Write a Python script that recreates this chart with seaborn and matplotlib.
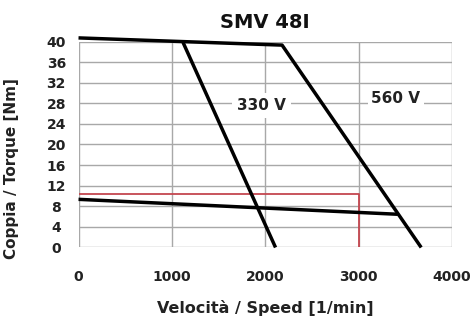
import matplotlib
matplotlib.use("Agg")
import matplotlib.pyplot as plt
import seaborn as sns
import pandas as pd

# Data
peak_560_speed = [0, 2180, 3670]
peak_560_torque = [40.7, 39.3, 0]
peak_330_speed = [1120, 2110]
peak_330_torque = [39.8, 0]
cont_speed = [0, 3420]
cont_torque = [9.35, 6.45]
rated_speed = [0, 3000, 3000]
rated_torque = [10.4, 10.4, 0]

x_ticks = [0, 1000, 2000, 3000, 4000]
y_ticks = list(range(0, 41, 4))

sns.set_theme(style="white")
plt.rcParams['font.family'] = ['DejaVu Sans']
plt.rcParams['text.color'] = 'black'
plt.rcParams['axes.labelcolor'] = 'black'
plt.rcParams['xtick.color'] = 'black'
plt.rcParams['ytick.color'] = 'black'

fig = plt.figure(figsize=(4.71, 3.25), dpi=100)
ax = fig.add_axes([0.1667, 0.2385, 0.9597 - 0.1667, 0.8723 - 0.2385])

for s in ax.spines.values():
    s.set_visible(False)
ax.set_xlim(0, 4000)
ax.set_ylim(0, 40)
ax.set_xticks(x_ticks)
ax.set_yticks(y_ticks)
ax.grid(True, color="#a8a8a8", linewidth=1.0)
ax.set_axisbelow(True)

red = "#c4464f"
sns.lineplot(x=rated_speed, y=rated_torque, ax=ax, color=red, lw=1.3, sort=False,
             estimator=None)
sns.lineplot(x=cont_speed, y=cont_torque, ax=ax, color="black", lw=2.5, sort=False,
             estimator=None)
sns.lineplot(x=peak_560_speed, y=peak_560_torque, ax=ax, color="black", lw=2.5,
             sort=False, estimator=None)
sns.lineplot(x=peak_330_speed, y=peak_330_torque, ax=ax, color="black", lw=2.5,
             sort=False, estimator=None)
for ln in ax.lines:
    ln.set_clip_on(False)
    ln.set_solid_capstyle("butt")

ax.text(1960, 27.6, "330 V", ha="center", va="center", fontsize=11, fontweight="bold",
        color="#222222", bbox=dict(facecolor="white", edgecolor="none", pad=3.5))
ax.text(3400, 29.0, "560 V", ha="center", va="center", fontsize=11, fontweight="bold",
        color="#222222", bbox=dict(facecolor="white", edgecolor="none", pad=2.5))

ax.set_title("SMV 48I", fontsize=14, fontweight="bold", pad=10, color="#111111")
ax.set_xlabel("Velocità / Speed [1/min]", fontsize=11.5, fontweight="bold", labelpad=12,
              color="#222222")
ax.set_ylabel("Coppia / Torque [Nm]", fontsize=11, fontweight="bold", color="#222222")
ax.yaxis.set_label_coords(-0.159, 0.381)
ax.tick_params(axis="x", labelsize=10, pad=16, length=0, labelcolor="#222222")
ax.tick_params(axis="y", labelsize=10, pad=16, length=0, labelcolor="#222222")
for lbl in ax.get_xticklabels() + ax.get_yticklabels():
    lbl.set_fontweight("bold")
for lbl in ax.get_yticklabels():
    lbl.set_horizontalalignment("center")

fig.savefig("out.png", dpi=100)
